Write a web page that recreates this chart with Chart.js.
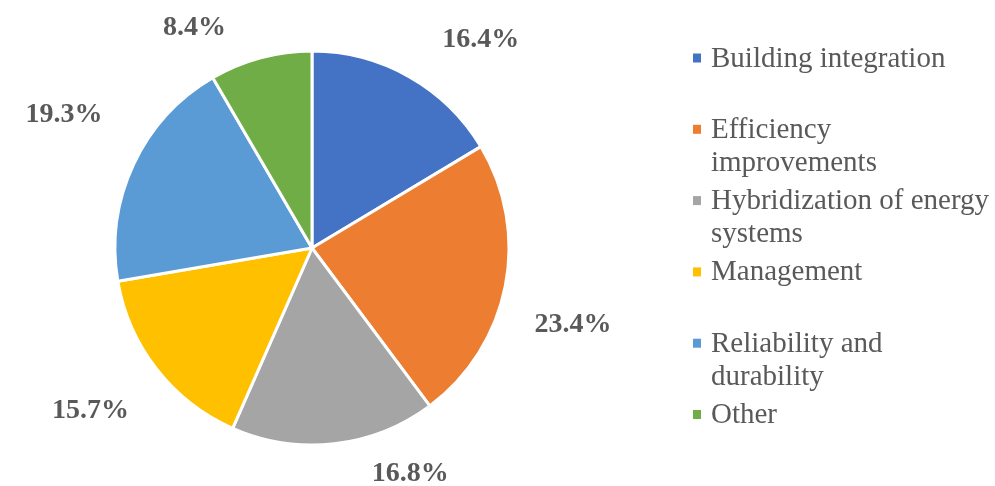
<!DOCTYPE html>
<html><head><meta charset="utf-8">
<script src="https://cdn.jsdelivr.net/npm/chart.js@4"></script>
<style>html,body{margin:0;padding:0;background:#fff}</style>
</head><body>
<canvas id="c" width="995" height="486"></canvas>
<script>
const categories = [['Building integration'], ['Efficiency', 'improvements'], ['Hybridization of energy', 'systems'], ['Management'], ['Reliability and', 'durability'], ['Other']];
const shares = [16.4, 23.4, 16.8, 15.7, 19.3, 8.4];
const percentLabels = ['16.4%', '23.4%', '16.8%', '15.7%', '19.3%', '8.4%'];
const colors = ['#4472C4', '#ED7D31', '#A5A5A5', '#FFC000', '#5B9BD5', '#70AD47'];
const labelAngleShift = [9.2, 4.8, -17.3, 2.1, 3.65, -12.7];
const labelGap = [72.6, 74.4, 46.8, 76.5, 85.6, 55];

const SERIF = '"Liberation Serif", "Times New Roman", serif';
const TEXT = '#595959';

const outsideLabels = {
  id: 'outsideLabels',
  afterDraw(chart) {
    const ctx = chart.ctx;
    const meta = chart.getDatasetMeta(0);
    ctx.save();
    ctx.font = 'bold 28px ' + SERIF;
    ctx.fillStyle = TEXT;
    ctx.textAlign = 'center';
    ctx.textBaseline = 'alphabetic';
    meta.data.forEach((arc, i) => {
      const p = arc.getProps(['x', 'y', 'startAngle', 'endAngle', 'outerRadius'], true);
      const mid = (p.startAngle + p.endAngle) / 2 + labelAngleShift[i] * Math.PI / 180;
      const d = p.outerRadius + labelGap[i];
      const cx = p.x + d * Math.cos(mid);
      const cy = p.y + d * Math.sin(mid);
      ctx.fillText(percentLabels[i], cx, cy + 9.5);
    });
    ctx.restore();
  }
};

const sideLegend = {
  id: 'sideLegend',
  afterDraw(chart) {
    const ctx = chart.ctx;
    ctx.save();
    ctx.font = '29px ' + SERIF;
    ctx.textAlign = 'left';
    ctx.textBaseline = 'alphabetic';
    const x0 = 693, tx = 711, y0 = 66.5, slot = 71.3, lh = 33;
    chart.data.labels.forEach((lines, i) => {
      const by = y0 + i * slot;
      ctx.fillStyle = chart.data.datasets[0].backgroundColor[i];
      ctx.fillRect(x0, by - 13, 8, 9);
      ctx.fillStyle = TEXT;
      lines.forEach((ln, j) => ctx.fillText(ln, tx, by + j * lh));
    });
    ctx.restore();
  }
};

new Chart(document.getElementById('c'), {
  type: 'pie',
  data: {
    labels: categories,
    datasets: [{
      data: shares,
      backgroundColor: colors,
      borderColor: '#ffffff',
      borderWidth: 3
    }]
  },
  options: {
    responsive: false,
    animation: false,
    layout: { padding: { left: 113.5, right: 484.5, top: 49.5, bottom: 39.5 } },
    plugins: {
      legend: { display: false },
      tooltip: { enabled: false }
    }
  },
  plugins: [outsideLabels, sideLegend]
});
</script>
</body></html>
